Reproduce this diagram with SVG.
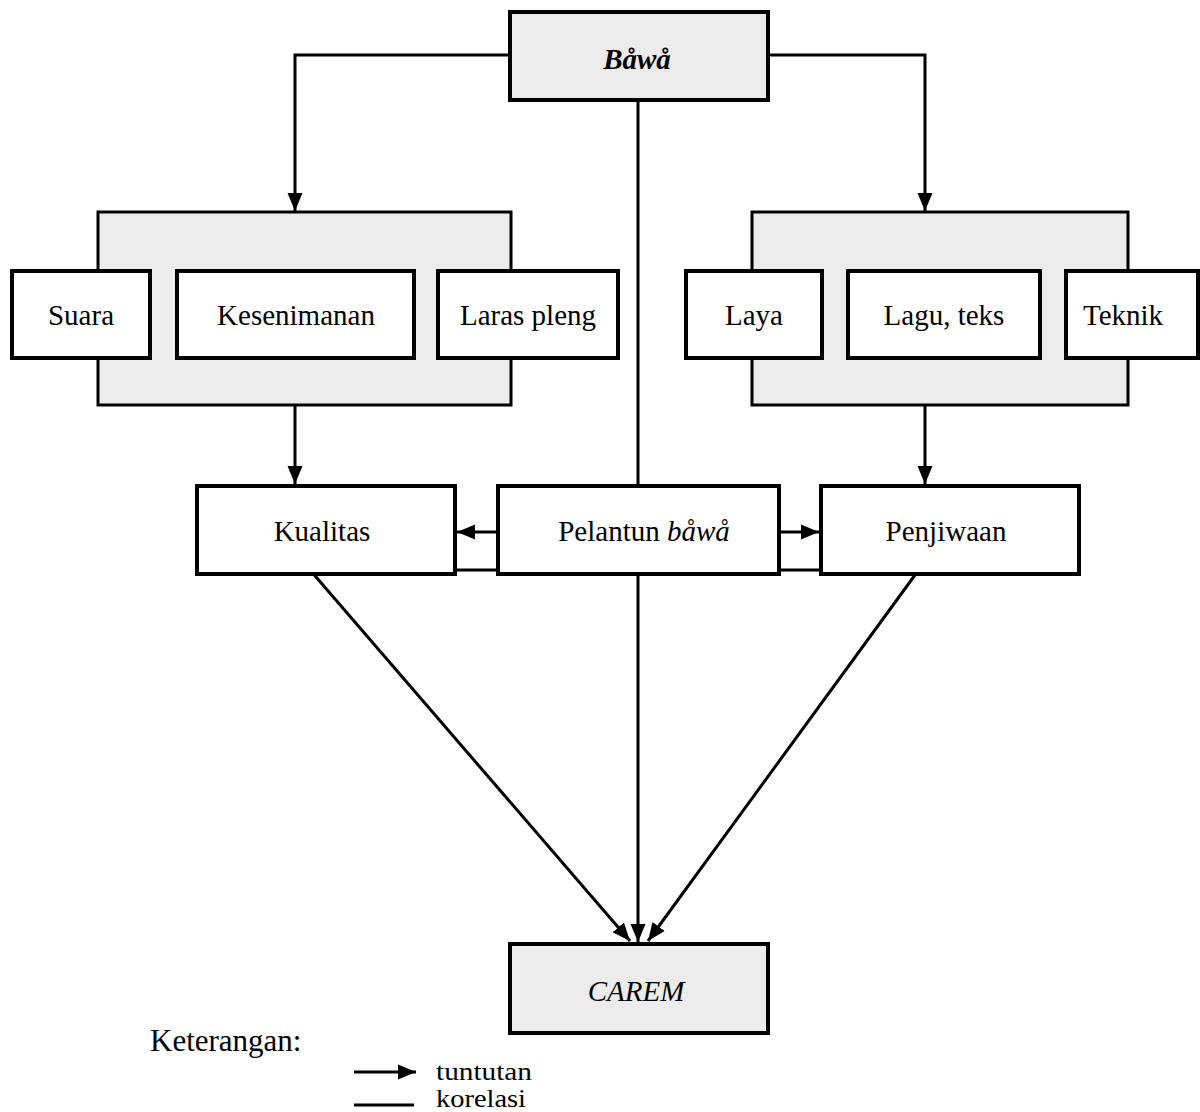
<svg xmlns="http://www.w3.org/2000/svg" width="1200" height="1112" viewBox="0 0 1200 1112">
<defs>
<marker id="arr" markerUnits="userSpaceOnUse" markerWidth="18" markerHeight="18" viewBox="0 0 18 18" refX="18" refY="9" orient="auto">
<path d="M0,1.5 L18,9 L0,16.5 Z" fill="#000"/>
</marker>
</defs>
<style>
.box{fill:#fff;stroke:#000;stroke-width:4}
.grey{fill:#ececec;stroke:#000;stroke-width:4}
.grp{fill:#ececec;stroke:#000;stroke-width:3}
.ln{fill:none;stroke:#000;stroke-width:3}
.t{font-family:"Liberation Serif","Times New Roman",serif;font-size:29px;fill:#000;text-anchor:middle}
.lg{font-family:"Liberation Serif","Times New Roman",serif;fill:#000}
</style>
<rect width="1200" height="1112" fill="#fff"/>
<g id="connectors">
<polyline class="ln" points="510,55 295,55 295,211" marker-end="url(#arr)"/>
<polyline class="ln" points="768,55 925,55 925,211" marker-end="url(#arr)"/>
<line class="ln" x1="638" y1="100" x2="638" y2="486"/>
<line class="ln" x1="295" y1="405" x2="295" y2="484" marker-end="url(#arr)"/>
<line class="ln" x1="925" y1="405" x2="925" y2="484" marker-end="url(#arr)"/>
<line class="ln" x1="497" y1="532" x2="457" y2="532" marker-end="url(#arr)"/>
<line class="ln" x1="779" y1="532" x2="819" y2="532" marker-end="url(#arr)"/>
<line class="ln" x1="455" y1="570" x2="498" y2="570"/>
<line class="ln" x1="779" y1="570" x2="821" y2="570"/>
<line class="ln" x1="638" y1="574" x2="638" y2="942" marker-end="url(#arr)"/>
<line class="ln" x1="310" y1="570" x2="630" y2="941" marker-end="url(#arr)"/>
<line class="ln" x1="915" y1="575" x2="648" y2="941" marker-end="url(#arr)"/>
<line class="ln" x1="150" y1="316" x2="177" y2="316"/>
<line class="ln" x1="414" y1="318" x2="438" y2="318"/>
<line class="ln" x1="822" y1="319" x2="848" y2="319"/>
<line class="ln" x1="1040" y1="319" x2="1066" y2="319"/>
</g>
<g id="grp-left"><rect class="grp" x="98" y="212" width="413" height="193"/></g>
<g id="grp-right"><rect class="grp" x="752" y="212" width="376" height="193"/></g>
<g id="bawa"><rect class="grey" x="510" y="12" width="258" height="88"/><text class="t" x="637" y="69" font-weight="bold" font-style="italic" font-size="31">Båwå</text></g>
<g id="suara"><rect class="box" x="12" y="271" width="138" height="87"/><text class="t" x="81" y="325">Suara</text></g>
<g id="kesenimanan"><rect class="box" x="177" y="271" width="237" height="87"/><text class="t" x="296" y="325">Kesenimanan</text></g>
<g id="laras"><rect class="box" x="438" y="271" width="180" height="87"/><text class="t" x="528" y="325">Laras pleng</text></g>
<g id="laya"><rect class="box" x="686" y="271" width="136" height="87"/><text class="t" x="754" y="325">Laya</text></g>
<g id="lagu"><rect class="box" x="848" y="271" width="192" height="87"/><text class="t" x="944" y="325">Lagu, teks</text></g>
<g id="teknik"><rect class="box" x="1066" y="271" width="132" height="87"/><text class="t" x="1123" y="325">Teknik</text></g>
<g id="kualitas"><rect class="box" x="197" y="486" width="258" height="88"/><text class="t" x="322" y="541">Kualitas</text></g>
<g id="pelantun"><rect class="box" x="498" y="486" width="281" height="88"/><text class="t" x="644" y="541">Pelantun <tspan font-style="italic">båwå</tspan></text></g>
<g id="penjiwaan"><rect class="box" x="821" y="486" width="258" height="88"/><text class="t" x="946" y="541">Penjiwaan</text></g>
<g id="carem"><rect class="grey" x="510" y="944" width="258" height="89"/><text class="t" x="636" y="1001" font-style="italic">CAREM</text></g>
<g id="legend">
<text class="lg" x="150" y="1051" font-size="31">Keterangan:</text>
<line class="ln" x1="354" y1="1072" x2="416" y2="1072" marker-end="url(#arr)"/>
<text class="lg" x="436" y="1080" font-size="25" textLength="96" lengthAdjust="spacingAndGlyphs">tuntutan</text>
<line class="ln" x1="354" y1="1105" x2="414" y2="1105"/>
<text class="lg" x="436" y="1107" font-size="25" textLength="90" lengthAdjust="spacingAndGlyphs">korelasi</text>
</g>
</svg>
